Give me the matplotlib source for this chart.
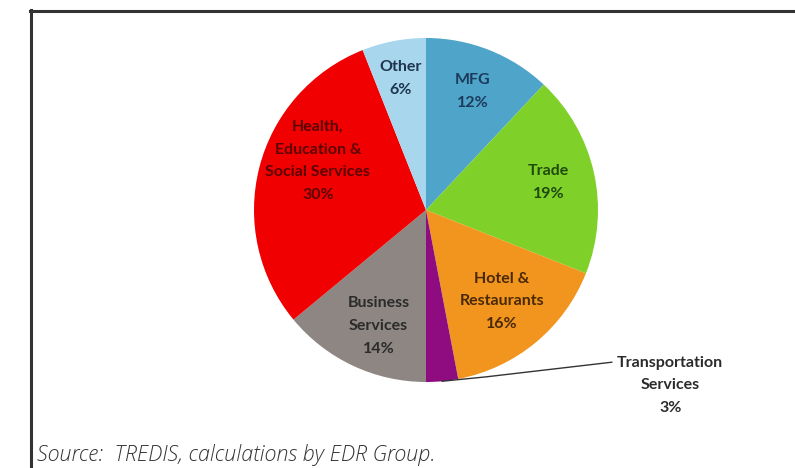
import numpy as np
import matplotlib
matplotlib.use("Agg")
import matplotlib.pyplot as plt
from matplotlib.lines import Line2D

# data
sectors = ["MFG", "Trade", "Hotel &\nRestaurants", "Transportation\nServices",
           "Business\nServices", "Health,\nEducation &\nSocial Services", "Other"]
shares = [12, 19, 16, 3, 14, 30, 6]

colors = ["#4ea5c9", "#7fd12a", "#f1951e", "#8e0c7f", "#8d8682", "#f00000", "#a8d6ec"]
text_colors = ["#1d3a5c", "#1f4a0c", "#4a2906", "#2b2b2b", "#2b2b2b", "#5c0303", "#1d3550"]
# label placement: radius fraction and angle shift from wedge middle
label_r = [0.74, 0.73, 0.69, None, 0.73, 0.69, 0.78]
label_shift = [0, 0, 0, 0, 3, -10, 0]

fig = plt.figure(figsize=(7.95, 4.68), dpi=100)
ax = fig.add_axes([0, 0, 1, 1])

wedges, _ = ax.pie(shares, startangle=90, counterclock=False, colors=colors,
                   radius=1, center=(0, 0), wedgeprops=dict(linewidth=0))

lbl = dict(fontsize=11.5, fontweight="bold", family="Lato", linespacing=1.8,
           ha="center", va="center")
for w, name, pct, tc, r, sh in zip(wedges, sectors, shares, text_colors,
                                   label_r, label_shift):
    mid = np.deg2rad((w.theta1 + w.theta2) / 2 + sh)
    txt = f"{name}\n{pct}%"
    if r is None:
        # outside label with leader line
        x0, y0 = np.cos(mid), np.sin(mid)
        ax.plot([x0, 0.35, 1.08], [y0, -0.97, -0.885], color="#333333", lw=1.0)
        ax.text(1.42, -1.02, txt, color=tc, **lbl)
    else:
        ax.text(r * np.cos(mid), r * np.sin(mid), txt, color=tc, **lbl)

ax.set_xlim(-426 / 172, (795 - 426) / 172)
ax.set_ylim(-(468 - 210) / 172, 210 / 172)
ax.set_aspect("auto")
ax.axis("off")

# frame lines
fig.add_artist(Line2D([30 / 795, 1], [1 - 10.5 / 468] * 2, color="#333333", lw=2.2))
fig.add_artist(Line2D([31 / 795] * 2, [0, 1 - 9.5 / 468], color="#333333", lw=2.2))

fig.text(37 / 795, 1 - 455 / 468, "Source:  TREDIS, calculations by EDR Group.",
         ha="left", va="center", fontsize=15.5, style="italic", fontweight="light",
         family="Open Sans", color="#333333")

fig.savefig("out.png", dpi=100)
